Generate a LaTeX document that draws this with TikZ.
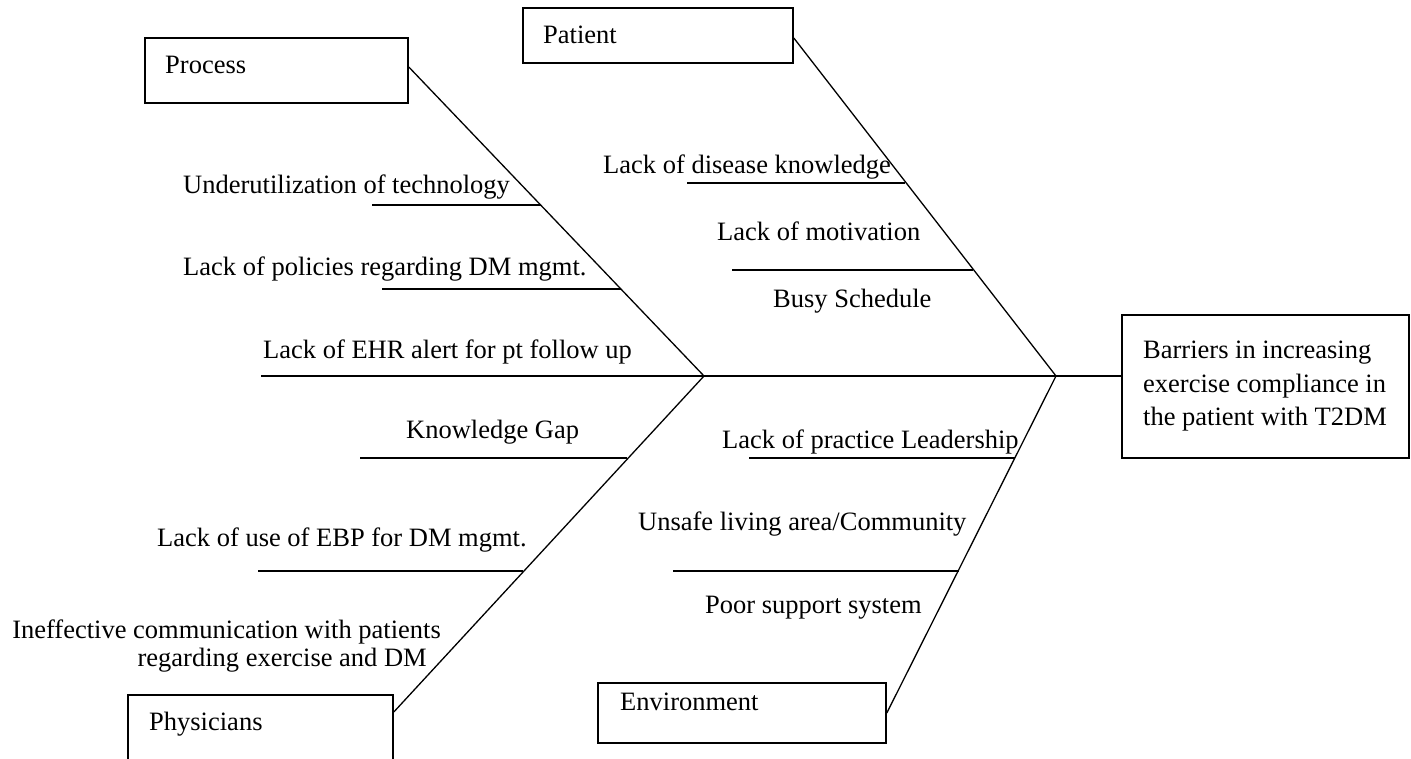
\documentclass[tikz,border=0pt]{standalone}
\usepackage{fontspec}
\setmainfont{Liberation Serif}
\begin{document}
\begin{tikzpicture}[x=1pt,y=-1pt,
  box/.style={draw, line width=1.6pt, inner sep=0pt},
  lbl/.style={font=\fontsize{26.5}{29}\selectfont, inner sep=0pt, anchor=west, text height=0.68em, text depth=0.2em, yshift=-6.5pt},
  multi/.style={font=\fontsize{26.5}{#1}\selectfont, inner sep=0pt, yshift=-6.5pt},
  bone/.style={line width=1.3pt},
  spine/.style={line width=1.7pt},
  sub/.style={line width=1.5pt}]
\useasboundingbox (0,0) rectangle (1411,759);
\clip (0,0) rectangle (1411,759);

% category boxes
\node[box, minimum width=263pt, minimum height=65pt] (process) at (276.5,70.5) {};
\node[box, minimum width=270pt, minimum height=55pt] (patient) at (658,35.5) {};
\node[box, minimum width=265pt, minimum height=100pt] (physicians) at (260.5,745) {};
\node[box, minimum width=288pt, minimum height=60pt] (environment) at (742,713) {};
\node[box, minimum width=287pt, minimum height=143pt] (effect) at (1265.5,386.5) {};

\node[lbl] (tprocess) at (165,65) {Process};
\node[lbl] (tpatient) at (543,35) {Patient};
\node[lbl] (tphys) at (149,722) {Physicians};
\node[lbl] (tenv) at (620,702) {Environment};
\node[multi=33.5, align=left, anchor=west] (teffect) at (1143,380)
  {Barriers in increasing\\exercise compliance in\\the patient with T2DM};

% spine
\coordinate (tail) at (261,376);
\coordinate (join) at (704,376);
\coordinate (head) at (1056,376);
\draw[spine] (tail) -- (tail -| effect.west);

% main bones
\draw[bone] ([yshift=3.5pt]process.east) -- (join);
\draw[bone] ([yshift=33pt]physicians.east) -- (join);
\draw[bone] ([yshift=-2.5pt]patient.east) -- (head);
\draw[bone] (environment.east) -- (head);

% process causes
\node[lbl] (c1) at (183,185) {Underutilization of technology};
\coordinate (c1a) at (372,205); \coordinate (c1b) at (541,205);
\draw[sub] (c1a) -- (c1b);
\node[lbl] (c2) at (183,267) {Lack of policies regarding DM mgmt.};
\coordinate (c2a) at (382,289); \coordinate (c2b) at (621,289);
\draw[sub] (c2a) -- (c2b);
\node[lbl] (c3) at (263,350) {Lack of EHR alert for pt follow up};

% physician causes
\node[lbl] (d1) at (406,430) {Knowledge Gap};
\coordinate (d1a) at (360,458); \coordinate (d1b) at (627,458);
\draw[sub] (d1a) -- (d1b);
\node[lbl] (d2) at (157,538) {Lack of use of EBP for DM mgmt.};
\coordinate (d2a) at (258,571); \coordinate (d2b) at (523,571);
\draw[sub] (d2a) -- (d2b);
\node[multi=28, align=right, anchor=east] (d3) at (441,640)
  {Ineffective communication with patients\\regarding exercise and DM\hspace*{14pt}};

% patient causes
\node[lbl] (p1) at (603,165) {Lack of disease knowledge};
\coordinate (p1a) at (687,183); \coordinate (p1b) at (905,183);
\draw[sub] (p1a) -- (p1b);
\node[lbl] (p2) at (717,232) {Lack of motivation};
\coordinate (p2a) at (732,270); \coordinate (p2b) at (973,270);
\draw[sub] (p2a) -- (p2b);
\node[lbl] (p3) at (773,299) {Busy Schedule};

% environment causes
\node[lbl] (e1) at (722,440) {Lack of practice Leadership};
\coordinate (e1a) at (749,458); \coordinate (e1b) at (1015,458);
\draw[sub] (e1a) -- (e1b);
\node[lbl] (e2) at (638,522) {Unsafe living area/Community};
\coordinate (e2a) at (673,571); \coordinate (e2b) at (959,571);
\draw[sub] (e2a) -- (e2b);
\node[lbl] (e3) at (705,605) {Poor support system};
\end{tikzpicture}
\end{document}
